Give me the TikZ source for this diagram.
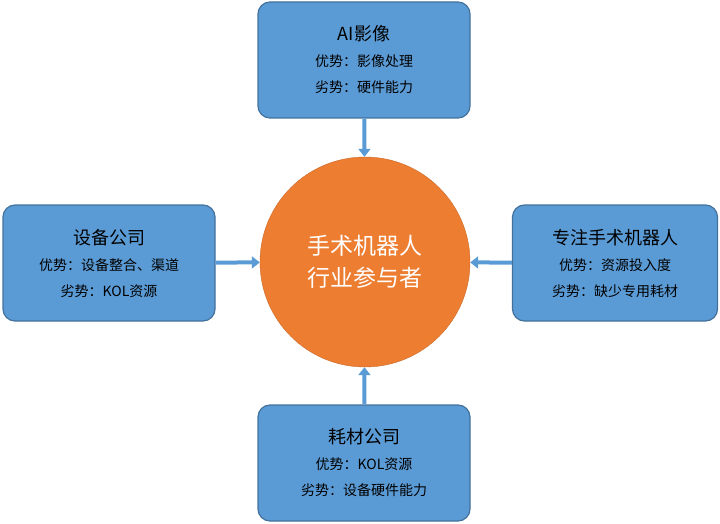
\documentclass[tikz,border=0pt]{standalone}
\usepackage{fontspec}
\setmainfont{Noto Sans CJK SC}
\usetikzlibrary{arrows.meta}
\definecolor{boxblue}{HTML}{5B9BD5}
\definecolor{boxedge}{HTML}{41719C}
\definecolor{coreorange}{HTML}{ED7D31}
\tikzset{
  player/.style={draw=boxedge, line width=1.2pt, fill=boxblue, rounded corners=12pt,
    minimum width=#1, minimum height=116pt, align=center, text=black,
    font=\fontsize{14}{26}\selectfont},
  player/.default=212pt,
  feed/.style={draw=boxblue, line width=4pt, -{Triangle[length=8pt,width=12pt]}}
}
\begin{document}
\begin{tikzpicture}[x=1pt, y=-1pt]
		\useasboundingbox (0,0) rectangle (720,524);
		\node[circle, fill=coreorange, draw=coreorange!85!black, minimum size=210pt, text=white,
		  align=center, font=\fontsize{23}{32}\selectfont] (core) at (365,262) {手术机器人\\行业参与者};
		\node[player] (ai) at (364,60) {{\fontsize{18}{24}\selectfont AI影像}\\优势：影像处理\\劣势：硬件能力};
		\node[player] (equip) at (109,263) {{\fontsize{18}{24}\selectfont 设备公司}\\优势：设备整合、渠道\\劣势：KOL资源};
		\node[player=205pt] (robot) at (615,263) {{\fontsize{18}{24}\selectfont 专注手术机器人}\\优势：资源投入度\\劣势：缺少专用耗材};
		\node[player] (cons) at (364,463) {{\fontsize{18}{24}\selectfont 耗材公司}\\优势：KOL资源\\劣势：设备硬件能力};
		\draw[feed] (ai) -- (core);
		\draw[feed] (equip) -- (core);
		\draw[feed] (robot) -- (core);
		\draw[feed] (cons) -- (core);
	\end{tikzpicture}
\end{document}
